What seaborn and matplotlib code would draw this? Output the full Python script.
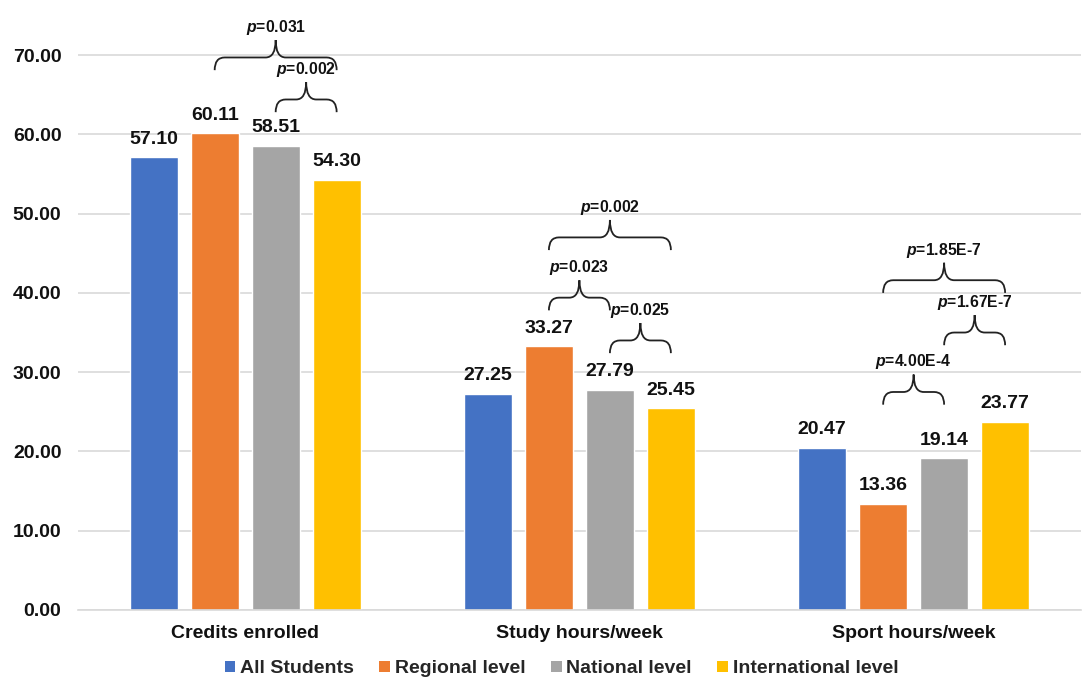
import matplotlib
matplotlib.use("Agg")
import matplotlib.pyplot as plt
from matplotlib.path import Path
from matplotlib.patches import PathPatch, Patch
import seaborn as sns
import pandas as pd

categories = ["Credits enrolled", "Study hours/week", "Sport hours/week"]
groups = ["All Students", "Regional level", "National level", "International level"]
all_students = [57.10, 27.25, 20.47]
regional = [60.11, 33.27, 13.36]
national = [58.51, 27.79, 19.14]
international = [54.30, 25.45, 23.77]
colors = ["#4472C4", "#ED7D31", "#A5A5A5", "#FFC000"]

# pairwise comparisons: (category index, group a, group b, brace base height, label)
comparisons = [
    (0, 1, 3, 68.1, "0.031"),
    (0, 2, 3, 62.8, "0.002"),
    (1, 1, 3, 45.4, "0.002"),
    (1, 1, 2, 37.8, "0.023"),
    (1, 2, 3, 32.4, "0.025"),
    (2, 1, 3, 40.0, "1.85E-7"),
    (2, 2, 3, 33.4, "1.67E-7"),
    (2, 1, 2, 25.9, "4.00E-4"),
]

sns.set_theme(style="white")
plt.rcParams["font.family"] = ["Liberation Sans", "DejaVu Sans"]
plt.rcParams["mathtext.fontset"] = "custom"
plt.rcParams["mathtext.it"] = "Liberation Sans:italic:bold"
plt.rcParams["mathtext.rm"] = "Liberation Sans:bold"

rows = []
series = [all_students, regional, national, international]
for g, vals in zip(groups, series):
    for c, v in zip(categories, vals):
        rows.append({"category": c, "group": g, "value": v})
df = pd.DataFrame(rows)

fig = plt.figure(figsize=(10.84, 6.81), dpi=100)
ax = fig.add_axes([0.072, 0.1043, 0.925, 0.873])
sns.barplot(data=df, x="category", y="value", hue="group", order=categories,
            hue_order=groups, palette=colors, width=0.73, gap=0.21,
            saturation=1, ax=ax, legend=False, zorder=2)

ax.set_ylim(0, 75)
ax.set_yticks(range(0, 71, 10))
ax.set_yticklabels([f"{t:.2f}" for t in range(0, 71, 10)])
ax.yaxis.grid(True, color="#D9D9D9", linewidth=1.2, zorder=0)
ax.set_axisbelow(True)
for s in ["top", "right", "left"]:
    ax.spines[s].set_visible(False)
ax.spines["bottom"].set_color("#D9D9D9")
ax.spines["bottom"].set_linewidth(1.2)
ax.set_xlabel("")
ax.set_ylabel("")
ax.tick_params(axis="y", labelsize=14, length=0, pad=12)
ax.tick_params(axis="x", labelsize=14, length=0, pad=11)
for lbl in ax.get_xticklabels() + ax.get_yticklabels():
    lbl.set_fontweight("bold")
    lbl.set_color("#111111")

# bar centers by (group, category)
centers = {}
for gi, cont in enumerate(ax.containers):
    for ci, bar in enumerate(cont):
        centers[(gi, ci)] = bar.get_x() + bar.get_width() / 2
    ax.bar_label(cont, labels=[f"{v:.2f}" for v in cont.datavalues], padding=7,
                 fontsize=14, fontweight="bold", color="#111111")


def brace(x0, x1, y, label):
    h1, h2, r = 1.6, 2.2, 0.03
    xm = (x0 + x1) / 2
    yh = y + h1
    yp = yh + h2
    verts = [
        (x0, y), (x0, yh), (x0 + r, yh),
        (xm - r, yh),
        (xm, yh), (xm, yp),
        (xm, yp), (xm, yh), (xm + r, yh),
        (x1 - r, yh),
        (x1, yh), (x1, y),
    ]
    codes = [Path.MOVETO, Path.CURVE3, Path.CURVE3,
             Path.LINETO,
             Path.CURVE3, Path.CURVE3,
             Path.MOVETO, Path.CURVE3, Path.CURVE3,
             Path.LINETO,
             Path.CURVE3, Path.CURVE3]
    ax.add_patch(PathPatch(Path(verts, codes), facecolor="none",
                           edgecolor="#222222", linewidth=1.3, clip_on=False, zorder=4))
    ax.text(xm, yp + 0.4, f"$p$={label}", ha="center", va="bottom",
            fontsize=11.3, fontweight="bold", color="#111111", clip_on=False)


for ci, ga, gb, yb, lab in comparisons:
    brace(centers[(ga, ci)], centers[(gb, ci)], yb, lab)

handles = [Patch(facecolor=c, edgecolor="none") for c in colors]
leg = fig.legend(handles, groups, loc="center", bbox_to_anchor=(0.518, 0.018),
                 ncol=4, frameon=False, handlelength=0.55, handleheight=0.55,
                 handletextpad=0.25, columnspacing=1.3,
                 prop={"weight": "bold", "size": 14})

fig.savefig("out.png", dpi=100)
